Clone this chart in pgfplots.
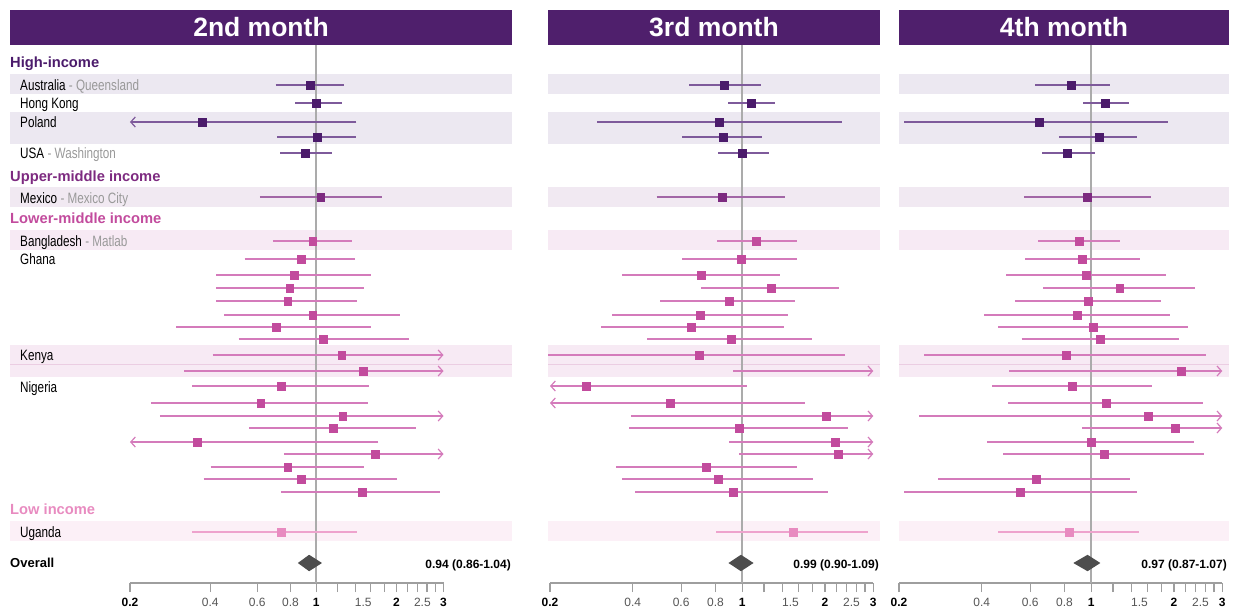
\documentclass[border=0pt]{standalone}
\usepackage{pgfplots}
\pgfplotsset{compat=1.18}
\usetikzlibrary{arrows.meta}
\usepackage{fontspec}
\setmainfont{Liberation Sans}
\newfontfamily\narrowfont{Liberation Sans}[FakeStretch=0.78]

\definecolor{hdr}{HTML}{4F1F6C}
\definecolor{hiM}{HTML}{4B1B6B}
\definecolor{hiL}{HTML}{7E5A9B}
\definecolor{umM}{HTML}{7D2A80}
\definecolor{umL}{HTML}{A266A6}
\definecolor{lmM}{HTML}{C24B9D}
\definecolor{lmL}{HTML}{D47BBB}
\definecolor{loM}{HTML}{E88BC0}
\definecolor{loL}{HTML}{EEA3CD}
\definecolor{hiB}{HTML}{ECE8F1}
\definecolor{umB}{HTML}{F1E9F2}
\definecolor{lmB}{HTML}{F7EAF4}
\definecolor{loB}{HTML}{FCF0F7}
\definecolor{lmSep}{HTML}{EBCDE2}
\definecolor{refg}{HTML}{ABABAB}
\definecolor{axg}{HTML}{9E9E9E}
\definecolor{subg}{HTML}{999999}
\definecolor{ovg}{HTML}{4D4D4D}
\definecolor{tlg}{HTML}{555555}

\newcommand{\grp}{\fontsize{14.7bp}{17bp}\selectfont\bfseries}
\newcommand{\cty}{\narrowfont\fontsize{15bp}{18bp}\selectfont}
\newcommand{\hdrf}{\fontsize{26.5bp}{30bp}\selectfont\bfseries}
\newcommand{\ovf}{\fontsize{12bp}{14bp}\selectfont\bfseries}

\pgfplotsset{
  myci/.style={line width=2bp, forget plot},
  mycik/.style={line width=2.8bp, forget plot},
  myarr/.style={-{Straight Barb[length=4.5bp,width=10bp,line width=1.2bp]}},
  mymk/.style={only marks, mark=square*, mark size=3.9bp, mark options={fill=#1, draw=#1, line width=0.3bp}, forget plot},
  mydia/.style={fill=ovg, draw=ovg, line width=1.2bp, line join=miter, forget plot},
}

\begin{document}
\begin{tikzpicture}
\path[use as bounding box] (0,0) rectangle (1237bp,-608bp);
\begin{scope}[x=1bp,y=-1bp]
  \fill[hdr] (10,10) rectangle (512,45);
  \fill[hdr] (548,10) rectangle (880,45);
  \fill[hdr] (899,10) rectangle (1229,45);
  \node[anchor=base, text=white, font=\hdrf, inner sep=0pt] at (261,36.7) {2nd month};
  \node[anchor=base, text=white, font=\hdrf, inner sep=0pt] at (714,36.7) {3rd month};
  \node[anchor=base, text=white, font=\hdrf, inner sep=0pt] at (1064,36.7) {4th month};
  \foreach \a/\b in {10/512,548/880,899/1229}{
    \fill[hiB] (\a,74) rectangle (\b,94);
    \fill[hiB] (\a,112) rectangle (\b,144);
    \fill[umB] (\a,187) rectangle (\b,207);
    \fill[lmB] (\a,230) rectangle (\b,250);
    \fill[lmB] (\a,345) rectangle (\b,377);
    \draw[lmSep, line width=0.8bp] (\a,364) -- (\b,364);
    \fill[loB] (\a,521) rectangle (\b,541);
  }
  \node[anchor=base west, inner sep=0pt, font=\grp, text=hiM] at (10,67.5) {High-income};
  \node[anchor=base west, inner sep=0pt, font=\grp, text=umM] at (10,181) {Upper-middle income};
  \node[anchor=base west, inner sep=0pt, font=\grp, text=lmM] at (10,223) {Lower-middle income};
  \node[anchor=base west, inner sep=0pt, font=\grp, text=loM] at (10,514) {Low income};
  \node[anchor=base west, inner sep=0pt, font=\cty] at (20,90.5) {Australia \textcolor{subg}{- Queensland}};
  \node[anchor=base west, inner sep=0pt, font=\cty] at (20,108.3) {Hong Kong};
  \node[anchor=base west, inner sep=0pt, font=\cty] at (20,127.7) {Poland};
  \node[anchor=base west, inner sep=0pt, font=\cty] at (20,158) {USA \textcolor{subg}{- Washington}};
  \node[anchor=base west, inner sep=0pt, font=\cty] at (20,203.3) {Mexico \textcolor{subg}{- Mexico City}};
  \node[anchor=base west, inner sep=0pt, font=\cty] at (20,246.7) {Bangladesh \textcolor{subg}{- Matlab}};
  \node[anchor=base west, inner sep=0pt, font=\cty] at (20,264.3) {Ghana};
  \node[anchor=base west, inner sep=0pt, font=\cty] at (20,360.3) {Kenya};
  \node[anchor=base west, inner sep=0pt, font=\cty] at (20,392.3) {Nigeria};
  \node[anchor=base west, inner sep=0pt, font=\cty] at (20,537.3) {Uganda};
  \node[anchor=base west, inner sep=0pt, font=\fontsize{13bp}{15bp}\selectfont\bfseries] at (10,567.5) {Overall};
  \node[anchor=base east, inner sep=0pt, font=\ovf] at (511,568) {0.94 (0.86-1.04)};
  \node[anchor=base east, inner sep=0pt, font=\ovf] at (879,568) {0.99 (0.90-1.09)};
  \node[anchor=base east, inner sep=0pt, font=\ovf] at (1227,568) {0.97 (0.87-1.07)};
\end{scope}

% ===== Panel 1: 2nd month =====
\begin{axis}[scale only axis, width=313.5bp, height=538bp, at={(130bp,-583bp)}, anchor=south west,
    xmode=log, xmin=0.2, xmax=3, ymin=-583, ymax=-45, clip=false, unbounded coords=jump,
    axis x line*=bottom, hide y axis,
    x axis line style={draw=axg, line width=1.3bp, -},
    xtick={0.2,0.4,0.6,0.8,1,1.2,1.4,1.6,1.8,2,2.2,2.4,2.6,2.8,3},
    xticklabels={\textbf{0.2},\textcolor{tlg}{0.4},\textcolor{tlg}{0.6},\textcolor{tlg}{0.8},\textbf{1},,,,,\textbf{2},,,,,\textbf{3}},
    extra x ticks={1.5,2.5}, extra x tick labels={\textcolor{tlg}{1.5},\textcolor{tlg}{2.5}},
    extra x tick style={major tick length=0bp, xticklabel style={yshift=-9bp}},
    minor tick num=0, tick align=outside, major tick length=9bp,
    tick style={draw=axg, line width=1.3bp},
    xticklabel style={font=\fontsize{12bp}{14bp}\selectfont, anchor=base, yshift=-14bp, inner sep=0pt}]
  \draw[refg, line width=2bp] (axis cs:1,-45) -- (axis cs:1,-583);
  \addplot[myci, hiL] coordinates {(0.703,-85) (1.274,-85) (1,nan) (0.832,-103) (1.245,-103) (1,nan) (0.714,-137) (1.41,-137) (1,nan) (0.732,-153) (1.148,-153)};
  \addplot[myci, hiL, myarr] coordinates {(1.414,-122) (0.2,-122)};
  \addplot[mymk=hiM] coordinates {(0.947,-85) (1,-103) (0.373,-122) (1.01,-137) (0.907,-153)};
  \addplot[myci, umL] coordinates {(0.614,-197) (1.77,-197)};
  \addplot[mymk=umM] coordinates {(1.038,-197)};
  \addplot[myci, lmL] coordinates {(0.687,-241) (1.365,-241) (1,nan) (0.538,-259) (1.40,-259) (1,nan) (0.422,-275) (1.60,-275) (1,nan) (0.422,-288) (1.51,-288) (1,nan) (0.422,-301) (1.426,-301) (1,nan) (0.451,-315) (2.06,-315) (1,nan) (0.298,-327) (1.61,-327) (1,nan) (0.511,-339) (2.22,-339) (1,nan) (0.342,-386) (1.57,-386) (1,nan) (0.240,-403) (1.56,-403) (1,nan) (0.560,-428) (2.36,-428) (1,nan) (0.401,-467) (1.51,-467) (1,nan) (0.378,-479) (2.01,-479) (1,nan) (0.739,-492) (2.92,-492)};
  \addplot[mycik, lmL, myarr] coordinates {(0.408,-355) (3,-355)};
  \addplot[myci, lmL, myarr] coordinates {(0.320,-371) (3,-371)};
  \addplot[myci, lmL, myarr] coordinates {(0.259,-416) (3,-416)};
  \addplot[myci, lmL, myarr] coordinates {(1.71,-442) (0.2,-442)};
  \addplot[myci, lmL, myarr] coordinates {(0.756,-454) (3,-454)};
  \addplot[mymk=lmM] coordinates {(0.969,-241) (0.876,-259) (0.827,-275) (0.794,-288) (0.780,-301) (0.969,-315) (0.705,-327) (1.063,-339) (1.245,-355) (1.50,-371) (0.737,-386) (0.618,-403) (1.256,-416) (1.155,-428) (0.356,-442) (1.66,-454) (0.780,-467) (0.876,-479) (1.485,-492)};
  \addplot[myci, loL] coordinates {(0.342,-532) (1.42,-532)};
  \addplot[mymk=loM] coordinates {(0.737,-532)};
  \addplot[mydia] coordinates {(0.86,-563) (0.94,-555.5) (1.04,-563) (0.94,-570.5)} -- cycle;
\end{axis}

% ===== Panel 2: 3rd month =====
\begin{axis}[scale only axis, width=323.3bp, height=538bp, at={(550bp,-583bp)}, anchor=south west,
    xmode=log, xmin=0.2, xmax=3, ymin=-583, ymax=-45, clip=false, unbounded coords=jump,
    axis x line*=bottom, hide y axis,
    x axis line style={draw=axg, line width=1.3bp, -},
    xtick={0.2,0.4,0.6,0.8,1,1.2,1.4,1.6,1.8,2,2.2,2.4,2.6,2.8,3},
    xticklabels={\textbf{0.2},\textcolor{tlg}{0.4},\textcolor{tlg}{0.6},\textcolor{tlg}{0.8},\textbf{1},,,,,\textbf{2},,,,,\textbf{3}},
    extra x ticks={1.5,2.5}, extra x tick labels={\textcolor{tlg}{1.5},\textcolor{tlg}{2.5}},
    extra x tick style={major tick length=0bp, xticklabel style={yshift=-9bp}},
    minor tick num=0, tick align=outside, major tick length=9bp,
    tick style={draw=axg, line width=1.3bp},
    xticklabel style={font=\fontsize{12bp}{14bp}\selectfont, anchor=base, yshift=-14bp, inner sep=0pt}]
  \draw[refg, line width=2bp] (axis cs:1,-45) -- (axis cs:1,-583);
  \addplot[myci, hiL] coordinates {(0.643,-85) (1.170,-85) (1,nan) (0.891,-103) (1.319,-103) (1,nan) (0.297,-122) (2.31,-122) (1,nan) (0.606,-137) (1.18,-137) (1,nan) (0.818,-153) (1.254,-153)};
  \addplot[mymk=hiM] coordinates {(0.860,-85) (1.078,-103) (0.825,-122) (0.853,-137) (1.0,-153)};
  \addplot[myci, umL] coordinates {(0.488,-197) (1.434,-197)};
  \addplot[mymk=umM] coordinates {(0.846,-197)};
  \addplot[myci, lmL] coordinates {(0.813,-241) (1.58,-241) (1,nan) (0.606,-259) (1.58,-259) (1,nan) (0.367,-275) (1.37,-275) (1,nan) (0.711,-288) (2.25,-288) (1,nan) (0.504,-301) (1.556,-301) (1,nan) (0.337,-315) (1.467,-315) (1,nan) (0.307,-327) (1.42,-327) (1,nan) (0.451,-339) (1.79,-339) (1,nan) (0.389,-428) (2.43,-428) (1,nan) (0.349,-467) (1.58,-467) (1,nan) (0.366,-479) (1.81,-479) (1,nan) (0.409,-492) (2.05,-492)};
  \addplot[mycik, lmL] coordinates {(0.197,-355) (2.37,-355)};
  \addplot[myci, lmL, myarr] coordinates {(0.930,-371) (3,-371)};
  \addplot[myci, lmL, myarr] coordinates {(1.04,-386) (0.2,-386)};
  \addplot[myci, lmL, myarr] coordinates {(1.69,-403) (0.2,-403)};
  \addplot[myci, lmL, myarr] coordinates {(0.394,-416) (3,-416)};
  \addplot[myci, lmL, myarr] coordinates {(0.899,-442) (3,-442)};
  \addplot[myci, lmL, myarr] coordinates {(0.978,-454) (3,-454)};
  \addplot[mymk=lmM] coordinates {(1.124,-241) (0.989,-259) (0.709,-275) (1.275,-288) (0.897,-301) (0.703,-315) (0.652,-327) (0.909,-339) (0.697,-355) (0.270,-386) (0.547,-403) (2.02,-416) (0.975,-428) (2.18,-442) (2.24,-454) (0.739,-467) (0.818,-479) (0.927,-492)};
  \addplot[myci, loL] coordinates {(0.804,-532) (2.87,-532)};
  \addplot[mymk=loM] coordinates {(1.53,-532)};
  \addplot[mydia] coordinates {(0.90,-563) (0.99,-555.5) (1.09,-563) (0.99,-570.5)} -- cycle;
\end{axis}

% ===== Panel 3: 4th month =====
\begin{axis}[scale only axis, width=323.3bp, height=538bp, at={(899bp,-583bp)}, anchor=south west,
    xmode=log, xmin=0.2, xmax=3, ymin=-583, ymax=-45, clip=false, unbounded coords=jump,
    axis x line*=bottom, hide y axis,
    x axis line style={draw=axg, line width=1.3bp, -},
    xtick={0.2,0.4,0.6,0.8,1,1.2,1.4,1.6,1.8,2,2.2,2.4,2.6,2.8,3},
    xticklabels={\textbf{0.2},\textcolor{tlg}{0.4},\textcolor{tlg}{0.6},\textcolor{tlg}{0.8},\textbf{1},,,,,\textbf{2},,,,,\textbf{3}},
    extra x ticks={1.5,2.5}, extra x tick labels={\textcolor{tlg}{1.5},\textcolor{tlg}{2.5}},
    extra x tick style={major tick length=0bp, xticklabel style={yshift=-9bp}},
    minor tick num=0, tick align=outside, major tick length=9bp,
    tick style={draw=axg, line width=1.3bp},
    xticklabel style={font=\fontsize{12bp}{14bp}\selectfont, anchor=base, yshift=-14bp, inner sep=0pt}]
  \draw[refg, line width=2bp] (axis cs:1,-45) -- (axis cs:1,-583);
  \addplot[myci, hiL] coordinates {(0.627,-85) (1.17,-85) (1,nan) (0.937,-103) (1.37,-103) (1,nan) (0.209,-122) (1.90,-122) (1,nan) (0.767,-137) (1.47,-137) (1,nan) (0.665,-153) (1.03,-153)};
  \addplot[mymk=hiM] coordinates {(0.846,-85) (1.124,-103) (0.647,-122) (1.07,-137) (0.818,-153)};
  \addplot[myci, umL] coordinates {(0.572,-197) (1.65,-197)};
  \addplot[mymk=umM] coordinates {(0.967,-197)};
  \addplot[myci, lmL] coordinates {(0.643,-241) (1.275,-241) (1,nan) (0.577,-259) (1.50,-259) (1,nan) (0.492,-275) (1.87,-275) (1,nan) (0.670,-288) (2.39,-288) (1,nan) (0.529,-301) (1.79,-301) (1,nan) (0.408,-315) (1.93,-315) (1,nan) (0.459,-327) (2.25,-327) (1,nan) (0.558,-339) (2.09,-339) (1,nan) (0.437,-386) (1.66,-386) (1,nan) (0.499,-403) (2.55,-403) (1,nan) (0.418,-442) (2.37,-442) (1,nan) (0.478,-454) (2.57,-454) (1,nan) (0.278,-479) (1.38,-479) (1,nan) (0.209,-492) (1.47,-492)};
  \addplot[mycik, lmL] coordinates {(0.247,-355) (2.62,-355)};
  \addplot[myci, lmL, myarr] coordinates {(0.504,-371) (3,-371)};
  \addplot[myci, lmL, myarr] coordinates {(0.237,-416) (3,-416)};
  \addplot[myci, lmL, myarr] coordinates {(0.927,-428) (3,-428)};
  \addplot[mymk=lmM] coordinates {(0.904,-241) (0.925,-259) (0.959,-275) (1.27,-288) (0.975,-301) (0.887,-315) (1.014,-327) (1.076,-339) (0.809,-355) (2.13,-371) (0.85,-386) (1.134,-403) (1.61,-416) (2.02,-428) (1.0,-442) (1.112,-454) (0.631,-479) (0.551,-492)};
  \addplot[myci, loL] coordinates {(0.46,-532) (1.49,-532)};
  \addplot[mymk=loM] coordinates {(0.834,-532)};
  \addplot[mydia] coordinates {(0.87,-563) (0.97,-555.5) (1.07,-563) (0.97,-570.5)} -- cycle;
\end{axis}
\end{tikzpicture}
\end{document}
